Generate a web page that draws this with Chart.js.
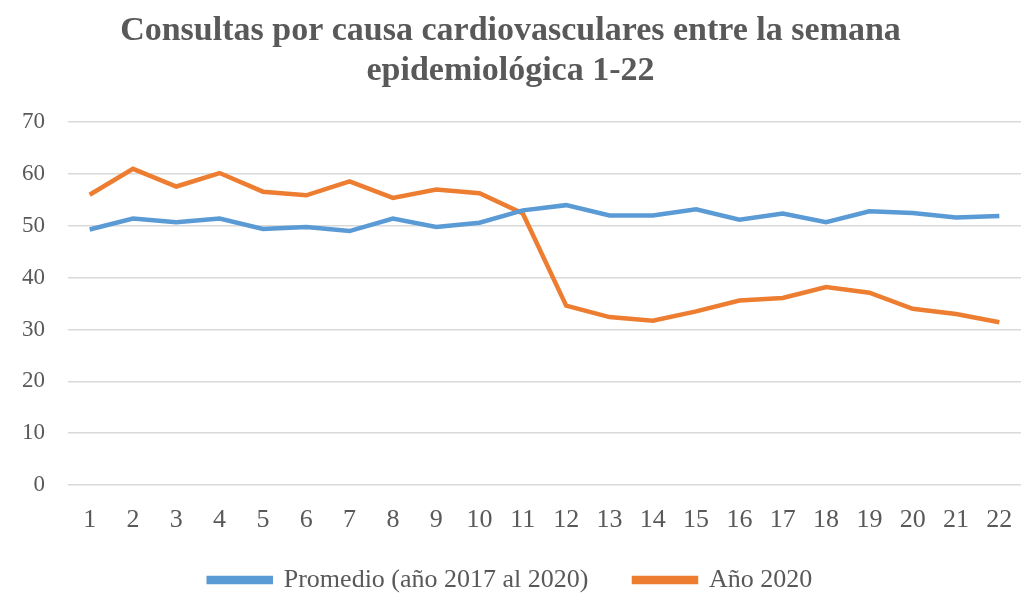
<!DOCTYPE html>
<html>
<head>
<meta charset="utf-8">
<script src="https://cdn.jsdelivr.net/npm/chart.js@4"></script>
<style>
  html, body { margin: 0; padding: 0; background: #fff; }
  #wrap { width: 1021px; height: 593px; }
</style>
</head>
<body>
<div id="wrap"><canvas id="grafico"></canvas></div>
<script>
// ---------- Datos ----------
const semanas = ["1","2","3","4","5","6","7","8","9","10","11","12","13","14","15","16","17","18","19","20","21","22"];
const promedio = [49.3, 51.4, 50.7, 51.4, 49.4, 49.8, 49.0, 51.4, 49.8, 50.6, 53.0, 54.0, 52.0, 52.0, 53.2, 51.2, 52.4, 50.7, 52.8, 52.5, 51.6, 51.9];
const anio2020 = [56.0, 61.0, 57.6, 60.2, 56.6, 55.9, 58.6, 55.4, 57.0, 56.3, 52.4, 34.6, 32.4, 31.7, 33.5, 35.6, 36.1, 38.2, 37.1, 34.0, 33.0, 31.4];
const nombres = ["Promedio (año 2017 al 2020)", "Año 2020"];

const gris = "#595959";
const fuente = "'Liberation Serif', 'Times New Roman', serif";

const ctx = document.getElementById("grafico").getContext("2d");
new Chart(ctx, {
  type: "line",
  data: {
    labels: semanas,
    datasets: [
      {
        label: nombres[0],
        data: promedio,
        borderColor: "#5b9bd5",
        backgroundColor: "#5b9bd5",
        borderWidth: 4.5,
        pointRadius: 0,
        tension: 0
      },
      {
        label: nombres[1],
        data: anio2020,
        borderColor: "#ed7d31",
        backgroundColor: "#ed7d31",
        borderWidth: 4.5,
        pointRadius: 0,
        tension: 0
      }
    ]
  },
  options: {
    responsive: true,
    maintainAspectRatio: false,
    animation: false,
    layout: { padding: { left: 0, right: 0, top: 11, bottom: -10 } },
    plugins: {
      title: {
        display: true,
        text: ["Consultas por causa cardiovasculares entre la semana", "epidemiológica 1-22"],
        color: gris,
        font: { family: fuente, size: 34, weight: "bold", lineHeight: 1.18 },
        padding: { top: 0, bottom: 31 }
      },
      legend: {
        position: "bottom",
        labels: {
          color: gris,
          boxWidth: 62,
          boxHeight: 4,
          padding: 0,
          font: { family: fuente, size: 26 },
          // espacio extra entre las dos entradas de la leyenda
          generateLabels: (chart) => {
            const items = Chart.defaults.plugins.legend.labels.generateLabels(chart);
            items[0].text = items[0].text + "       ";
            return items;
          }
        }
      },
      tooltip: { enabled: false }
    },
    scales: {
      y: {
        min: 0,
        max: 70,
        afterFit: (s) => { s.width = 68; },
        ticks: {
          stepSize: 10,
          color: gris,
          padding: 23,
          font: { family: fuente, size: 23 }
        },
        grid: { color: "#d9d9d9", lineWidth: 1.5, drawTicks: false },
        border: { display: false }
      },
      x: {
        offset: true,
        afterFit: (s) => { s.height = 82; s.paddingLeft = 0; s.paddingRight = 0; },
        ticks: {
          color: gris,
          padding: 20,
          maxRotation: 0,
          autoSkip: false,
          font: { family: fuente, size: 26 }
        },
        grid: { display: false, drawTicks: false },
        border: { display: false }
      }
    }
  }
});
</script>
</body>
</html>
